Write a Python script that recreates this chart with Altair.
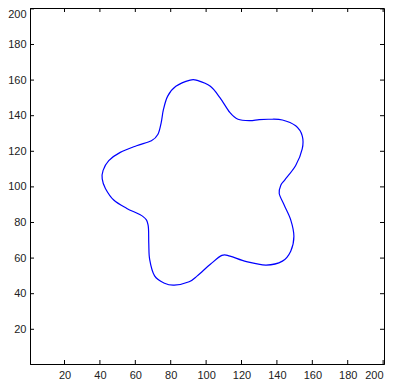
import altair as alt
import pandas as pd

# Closed contour, traced clockwise from the top lobe
curve_x = [91.0, 95.0, 102.4, 107.9, 113.5, 118.0, 124.6, 130.0, 135.7, 143.1,
           150.6, 154.3, 154.3, 150.6, 144.5, 142.2, 141.3, 144.1, 147.8, 149.6,
           147.8, 143.1, 133.9, 122.8, 113.5, 108.9, 102.4, 95.0, 90.4, 82.0,
           76.5, 70.9, 68.1, 67.6, 67.2, 64.4, 55.2, 47.8, 43.1, 41.3,
           41.8, 45.0, 51.5, 60.7, 69.1, 72.8, 74.6, 75.9, 78.3, 82.9]
curve_y = [160.0, 159.8, 156.5, 150.0, 141.7, 138.0, 137.2, 137.8, 138.0, 137.6,
           134.3, 128.7, 121.3, 112.0, 104.0, 100.9, 96.3, 89.8, 81.5, 72.2,
           63.9, 58.3, 56.1, 58.0, 61.1, 61.5, 56.5, 50.0, 46.7, 44.8,
           45.9, 50.0, 59.3, 68.5, 78.7, 83.3, 87.9, 92.6, 99.1, 104.5,
           109.3, 114.8, 119.4, 123.1, 125.9, 129.6, 136.0, 143.5, 151.0, 156.5]

x_ticks = [20, 40, 60, 80, 100, 120, 140, 160, 180, 200]
y_ticks = [20, 40, 60, 80, 100, 120, 140, 160, 180, 200]

df = pd.DataFrame({"x": curve_x, "y": curve_y, "i": list(range(len(curve_x)))})
xt = pd.DataFrame({"t": x_ticks})
yt = pd.DataFrame({"t": y_ticks})

W = 354
H = 356
xs = alt.Scale(domain=[0.5, 200.5], nice=False, zero=False)
ys = alt.Scale(domain=[0.5, 200.5], nice=False, zero=False)

common = dict(labelFont="Liberation Sans", labelFontSize=11, labelColor="#222222",
              ticks=False, grid=False, title=None, domainColor="#000000",
              domainWidth=1)
x_axis = alt.Axis(values=x_ticks, labelPadding=5, **common)
y_axis = alt.Axis(values=y_ticks, labelPadding=4, labelFlush=3, **common)

line = alt.Chart(df).mark_line(
    color="#0000ff", strokeWidth=1.2, interpolate="cardinal-closed"
).encode(
    x=alt.X("x:Q", scale=xs, axis=x_axis),
    y=alt.Y("y:Q", scale=ys, axis=y_axis),
    order="i:Q",
)

tl = 4
bottom = alt.Chart(xt).mark_rule(color="black", strokeWidth=1).encode(
    x=alt.X("t:Q", scale=xs, axis=x_axis), y=alt.value(H), y2=alt.value(H - tl))
top = alt.Chart(xt).mark_rule(color="black", strokeWidth=1).encode(
    x=alt.X("t:Q", scale=xs, axis=x_axis), y=alt.value(0), y2=alt.value(tl))
left = alt.Chart(yt).mark_rule(color="black", strokeWidth=1).encode(
    y=alt.Y("t:Q", scale=ys, axis=y_axis), x=alt.value(0), x2=alt.value(tl))
right = alt.Chart(yt).mark_rule(color="black", strokeWidth=1).encode(
    y=alt.Y("t:Q", scale=ys, axis=y_axis), x=alt.value(W), x2=alt.value(W - tl))

chart = alt.layer(line, bottom, top, left, right).properties(
    width=W, height=H,
    autosize=alt.AutoSizeParams(type="none"),
    padding={"left": 22, "top": 0, "right": 1, "bottom": 18},
).configure_view(stroke="#000000", strokeWidth=1)

chart.save("out.html", embed_options={"renderer": "svg", "actions": False})
